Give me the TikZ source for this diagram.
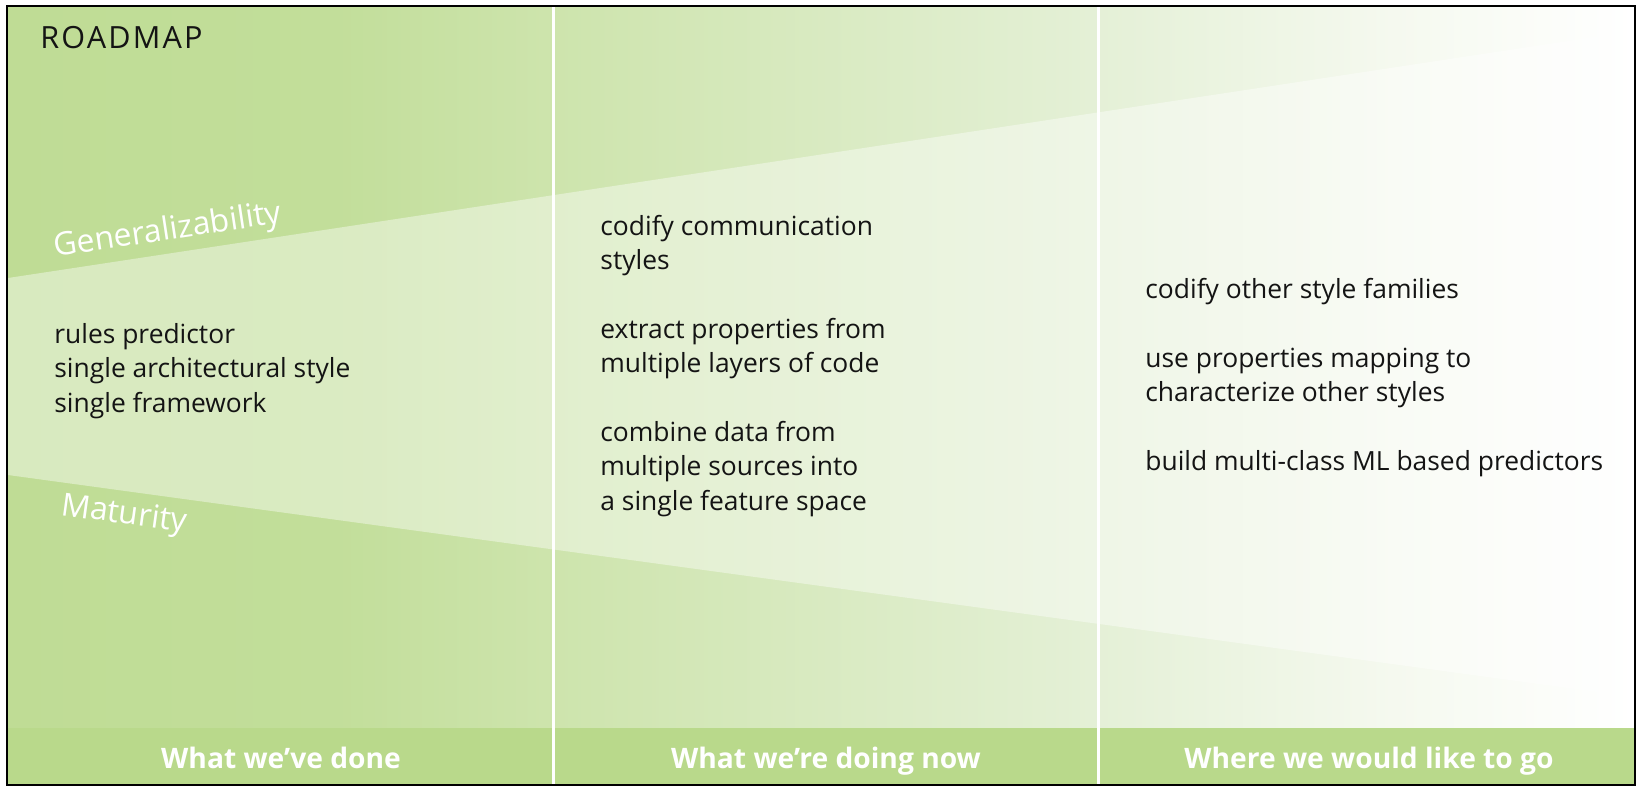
\documentclass[tikz,border=0pt]{standalone}
\usepackage{fontspec}
\setmainfont{Open Sans}
\definecolor{gA}{HTML}{BFDC95}
\definecolor{gB}{HTML}{C2DE9A}
\definecolor{gC}{HTML}{CDE4AC}
\definecolor{gD}{HTML}{E4F0D6}
\definecolor{gE}{HTML}{F5F9EF}
\definecolor{barGreen}{HTML}{B9D98B}
\pgfdeclarehorizontalshading{panelshade}{100bp}{
  color(0bp)=(gA);
  color(25bp)=(gA);
  color(35bp)=(gB);
  color(41.5bp)=(gC);
  color(58.3bp)=(gD);
  color(67.6bp)=(gE);
  color(75bp)=(white);
  color(100bp)=(white)}
\tikzset{
  bodytext/.style={anchor=base west, align=left, inner sep=0pt, text=black!92,
    font=\fontsize{13.2pt}{17.15pt}\selectfont},
  axislabel/.style={anchor=base west, inner sep=0pt, text=white,
    font=\fontsize{16pt}{19pt}\selectfont},
  barlabel/.style={anchor=base, inner sep=0pt, text=white,
    font=\fontsize{14.1pt}{16pt}\selectfont\bfseries},
  divider/.style={draw=white, line width=1.5pt},
}
\begin{document}
\begin{tikzpicture}[x=0.5pt,y=-0.5pt]
\useasboundingbox (0,0) rectangle (1643,787);
\fill[white] (0,0) rectangle (1643,787);
% background gradient
\shade[shading=panelshade] (8,6) rectangle (1634,785);
% lighter wedge between the two lines
\fill[white, fill opacity=0.4] (8,278) -- (1634,31) -- (1634,697) -- (8,475) -- cycle;
% bottom bar
\fill[barGreen] (8,728) rectangle (1634,785);
% column dividers
\coordinate (d1t) at (553,6);   \coordinate (d1b) at (553,785);
\coordinate (d2t) at (1098,6);  \coordinate (d2b) at (1098,785);
\draw[divider] (d1t) -- (d1b);
\draw[divider] (d2t) -- (d2b);
% frame
\draw[black, line width=1.3pt] (7,6) rectangle (1635,785);
% title
\node[anchor=base west, inner sep=0pt, text=black!92, font=\fontsize{15.3pt}{18pt}\selectfont\addfontfeature{LetterSpace=7}] (title) at (40,48) {ROADMAP};
% axis labels
\node[axislabel, rotate=8.6] (gen) at (55,257) {Generalizability};
\node[axislabel, rotate=-7.8] (mat) at (60,515) {Maturity};
% column texts (anchor at the baseline of the last line)
\node[bodytext] (c1) at (54,412) {rules predictor\\single architectural style\\single framework};
\node[bodytext] (c2) at (600,510) {codify communication\\styles\\[17.15pt]extract properties from\\multiple layers of code\\[17.15pt]combine data from\\multiple sources into\\a single feature space};
\node[bodytext] (c3) at (1145,470) {codify other style families\\[17.15pt]use properties mapping to\\characterize other styles\\[17.15pt]build multi-class ML based predictors};
% bar labels
\node[barlabel] (b1) at (281,768) {What we’ve done};
\node[barlabel] (b2) at (826,768) {What we’re doing now};
\node[barlabel] (b3) at (1369,768) {Where we would like to go};
\end{tikzpicture}
\end{document}
